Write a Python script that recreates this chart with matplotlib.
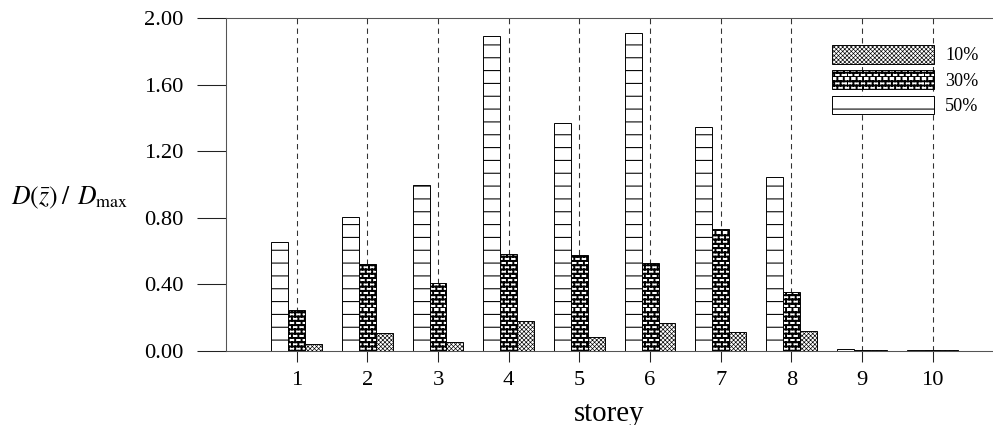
import warnings
warnings.filterwarnings('ignore')
import numpy as np
import matplotlib
matplotlib.use('Agg')
import matplotlib.pyplot as plt
import matplotlib.hatch as mhatch
from matplotlib.path import Path

# ---------------- data ----------------
storeys = [1, 2, 3, 4, 5, 6, 7, 8, 9, 10]
vals_50 = [0.652, 0.806, 0.999, 1.893, 1.372, 1.913, 1.348, 1.043, 0.008, 0.004]
vals_30 = [0.245, 0.520, 0.409, 0.582, 0.574, 0.526, 0.730, 0.353, 0.003, 0.002]
vals_10 = [0.040, 0.108, 0.052, 0.177, 0.082, 0.167, 0.112, 0.117, 0.002, 0.002]
series_labels = ['10%', '30%', '50%']
yticks = [0.0, 0.4, 0.8, 1.2, 1.6, 2.0]


# ---------------- custom brick hatch ----------------
class BrickHatch:
    def __init__(self, hatch, density):
        n = hatch.count('b')
        self.rows = 18 * n
        self.cols = 12 * n
        self.num_vertices = (2 * self.rows + 2 * self.rows * self.cols) if n else 0

    def set_vertices_and_codes(self, vertices, codes):
        i = 0
        for r in range(self.rows):
            y0 = r / self.rows
            y1 = (r + 1) / self.rows
            vertices[i] = (0.0, y0)
            vertices[i + 1] = (1.0, y0)
            codes[i] = Path.MOVETO
            codes[i + 1] = Path.LINETO
            i += 2
            off = 0.0 if r % 2 == 0 else 0.5
            for c in range(self.cols):
                x = (c + off) / self.cols
                vertices[i] = (x, y0)
                vertices[i + 1] = (x, y1)
                codes[i] = Path.MOVETO
                codes[i + 1] = Path.LINETO
                i += 2


mhatch._hatch_types.append(BrickHatch)

DPI = 77
plt.rcParams['font.family'] = ['Liberation Serif', 'DejaVu Serif']
plt.rcParams['mathtext.fontset'] = 'stix'

fig = plt.figure(figsize=(994 / DPI, 425 / DPI), dpi=DPI)
ax = fig.add_axes([226 / 994, 74.3 / 425, (993 - 226) / 994, (350.7 - 18.3) / 425])

x = np.array(storeys, dtype=float)
w = 0.24
HLW = {'50': 1.0, '30': 1.8, '10': 0.6}


def set_hlw(bars, lw):
    for b in bars:
        try:
            b.set_hatch_linewidth(lw)
        except Exception:
            pass


# dashed guide lines
for xi in storeys:
    ax.axvline(xi, color='#333333', lw=1.0, linestyle=(0, (5, 4)), zorder=1)

with plt.rc_context({'hatch.linewidth': HLW['50']}):
    b50 = ax.bar(x - w, vals_50, width=w, facecolor='white', edgecolor='black',
                 linewidth=0.9, hatch='-', label=series_labels[2], zorder=2)
set_hlw(b50, HLW['50'])
with plt.rc_context({'hatch.linewidth': HLW['30']}):
    b30 = ax.bar(x, vals_30, width=w, facecolor='white', edgecolor='black',
                 linewidth=0.9, hatch='b', label=series_labels[1], zorder=2)
set_hlw(b30, HLW['30'])
with plt.rc_context({'hatch.linewidth': HLW['10']}):
    b10 = ax.bar(x + w, vals_10, width=w, facecolor='white', edgecolor='black',
                 linewidth=0.9, hatch='xxxxxx', label=series_labels[0], zorder=2)
set_hlw(b10, HLW['10'])

ax.set_xlim(0, (993 - 226) / 70.67)
ax.set_ylim(0, 2.0)
ax.set_yticks(yticks)
ax.set_yticklabels(['%.2f' % v for v in yticks])
ax.set_xticks(storeys)
ax.set_xticklabels([str(s) for s in storeys])

ax.spines['right'].set_visible(False)
for s in ['left', 'top', 'bottom']:
    ax.spines[s].set_color('#555555')
    ax.spines[s].set_linewidth(1.0)

ax.tick_params(axis='y', direction='out', length=27, width=1.0, pad=13,
               labelsize=21, color='#222222')
ax.tick_params(axis='x', direction='out', length=10, width=1.0, pad=9,
               labelsize=21, color='#222222')

ax.set_xlabel('storey', fontsize=27, labelpad=10)

fig.text(11 / 994, 1 - 198 / 425,
         r'$D\left(\bar{z}\right)\;/\;\,D_{\mathrm{max}}$',
         fontsize=24, ha='left', va='center')

handles = [b10, b30, b50]
leg = ax.legend(handles, series_labels, loc='upper left',
                bbox_to_anchor=(831.7 / 994, 1 - 45 / 425),
                bbox_transform=fig.transFigure, frameon=False,
                fontsize=17, handlelength=5.6, handleheight=1.2,
                handletextpad=0.65, labelspacing=0.32, borderpad=0,
                borderaxespad=0)
for p, key in zip(leg.get_patches(), ['10', '30', '50']):
    try:
        p.set_hatch_linewidth(HLW[key])
    except Exception:
        pass

fig.savefig('out.png', dpi=DPI)
